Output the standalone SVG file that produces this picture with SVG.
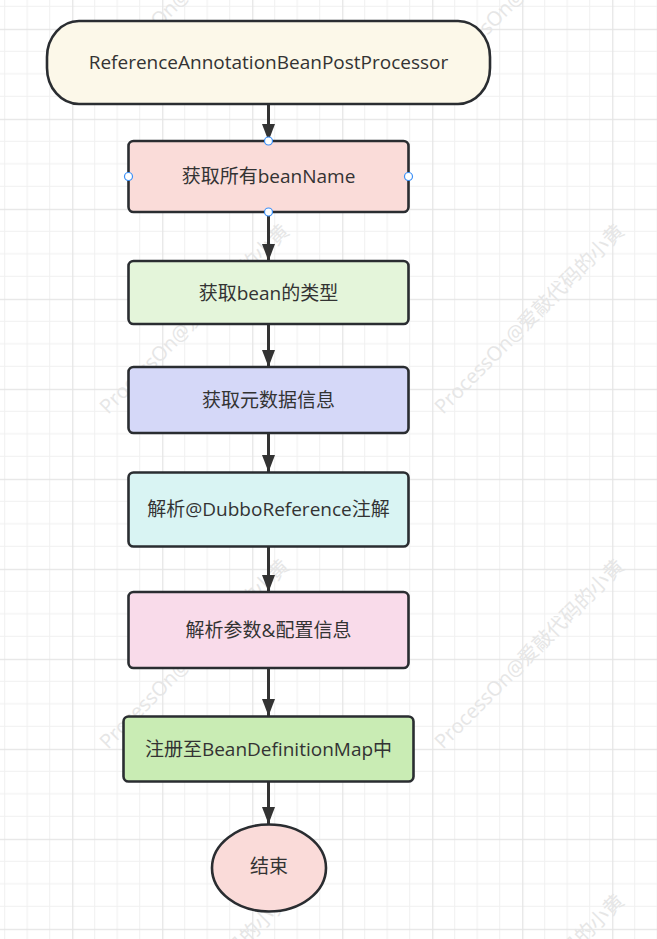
<svg xmlns="http://www.w3.org/2000/svg" width="657" height="939" viewBox="0 0 657 939">
<defs>
<style>
.node{stroke:#2a2d31;stroke-width:2.6}
.lbl{font-family:"Open Sans","Noto Sans CJK SC",sans-serif;font-size:19px;fill:#333;text-anchor:middle;dominant-baseline:central}
.wm{font-family:"Open Sans","Noto Sans CJK SC",sans-serif;font-size:20px;fill:#e6e6e6}
.conn{stroke:#333;stroke-width:3;fill:none}
.handle{fill:#fff;stroke:#3b8ff6;stroke-width:1.2}
</style>
<pattern id="grid" x="-17.8" y="-61.2" width="90" height="90" patternUnits="userSpaceOnUse">
<rect x="0" y="0" width="90" height="90" fill="#fff"/>
<rect x="22" y="0" width="1" height="90" fill="#f0f0f0"/>
<rect x="44.5" y="0" width="1" height="90" fill="#f0f0f0"/>
<rect x="67" y="0" width="1" height="90" fill="#f0f0f0"/>
<rect x="0" y="22" width="90" height="1" fill="#f0f0f0"/>
<rect x="0" y="44.5" width="90" height="1" fill="#f0f0f0"/>
<rect x="0" y="67" width="90" height="1" fill="#f0f0f0"/>
<rect x="0" y="0" width="1.2" height="90" fill="#e4e4e4"/>
<rect x="0" y="0" width="90" height="1.2" fill="#e4e4e4"/>
</pattern>
<marker id="arrow" markerUnits="userSpaceOnUse" viewBox="0 0 17 13" markerWidth="17" markerHeight="13" refX="17" refY="6.5" orient="auto">
<path d="M0,0 L17,6.5 L0,13 Z" fill="#333"/>
</marker>
</defs>
<rect width="657" height="939" fill="url(#grid)"/>
<g id="watermarks">
<text class="wm" transform="translate(108,80) rotate(-45)">ProcessOn@爱敲代码的小黄</text>
<text class="wm" transform="translate(443,80) rotate(-45)">ProcessOn@爱敲代码的小黄</text>
<text class="wm" transform="translate(108,415) rotate(-45)">ProcessOn@爱敲代码的小黄</text>
<text class="wm" transform="translate(443,415) rotate(-45)">ProcessOn@爱敲代码的小黄</text>
<text class="wm" transform="translate(108,750) rotate(-45)">ProcessOn@爱敲代码的小黄</text>
<text class="wm" transform="translate(443,750) rotate(-45)">ProcessOn@爱敲代码的小黄</text>
<text class="wm" transform="translate(108,1085) rotate(-45)">ProcessOn@爱敲代码的小黄</text>
<text class="wm" transform="translate(443,1085) rotate(-45)">ProcessOn@爱敲代码的小黄</text>
</g>
<g id="connectors">
<line class="conn" x1="268.5" y1="104" x2="268.5" y2="141" marker-end="url(#arrow)"/>
<line class="conn" x1="268.5" y1="212" x2="268.5" y2="261" marker-end="url(#arrow)"/>
<line class="conn" x1="268.5" y1="324" x2="268.5" y2="367" marker-end="url(#arrow)"/>
<line class="conn" x1="268.5" y1="433" x2="268.5" y2="472" marker-end="url(#arrow)"/>
<line class="conn" x1="268.5" y1="547" x2="268.5" y2="592" marker-end="url(#arrow)"/>
<line class="conn" x1="268.5" y1="668" x2="268.5" y2="716" marker-end="url(#arrow)"/>
<line class="conn" x1="268.5" y1="782" x2="268.5" y2="824" marker-end="url(#arrow)"/>
</g>
<g id="start">
<rect class="node" x="47" y="21" width="443" height="83" rx="32" ry="36" fill="#fcf8e9"/>
<text class="lbl" x="268.5" y="62">ReferenceAnnotationBeanPostProcessor</text>
</g>
<g id="getBeanNames">
<rect class="node" x="128.5" y="141" width="280" height="71" rx="5" fill="#fadcd9"/>
<text class="lbl" x="268.5" y="176">获取所有beanName</text>
<circle class="handle" cx="268.5" cy="141" r="4"/>
<circle class="handle" cx="128.5" cy="176.5" r="4"/>
<circle class="handle" cx="408.5" cy="176.5" r="4"/>
<circle class="handle" cx="268.5" cy="212" r="4"/>
</g>
<g id="getBeanType">
<rect class="node" x="128.5" y="261" width="280" height="63" rx="5" fill="#e4f5da"/>
<text class="lbl" x="268.5" y="293">获取bean的类型</text>
</g>
<g id="getMetadata">
<rect class="node" x="128.5" y="367" width="280" height="66" rx="5" fill="#d5d8f8"/>
<text class="lbl" x="268.5" y="400">获取元数据信息</text>
</g>
<g id="parseAnnotation">
<rect class="node" x="128.5" y="472.5" width="280" height="74" rx="5" fill="#d9f4f3"/>
<text class="lbl" x="268.5" y="509">解析@DubboReference注解</text>
</g>
<g id="parseParams">
<rect class="node" x="128.5" y="592" width="280" height="76" rx="5" fill="#f9dbea"/>
<text class="lbl" x="268.5" y="630">解析参数&amp;配置信息</text>
</g>
<g id="register">
<rect class="node" x="123.5" y="716.5" width="290" height="65" rx="5" fill="#c9ecb4"/>
<text class="lbl" x="268.5" y="749">注册至BeanDefinitionMap中</text>
</g>
<g id="end">
<ellipse class="node" cx="269" cy="868" rx="57" ry="43.5" fill="#fadbd9"/>
<text class="lbl" x="269" y="866">结束</text>
</g>
</svg>
